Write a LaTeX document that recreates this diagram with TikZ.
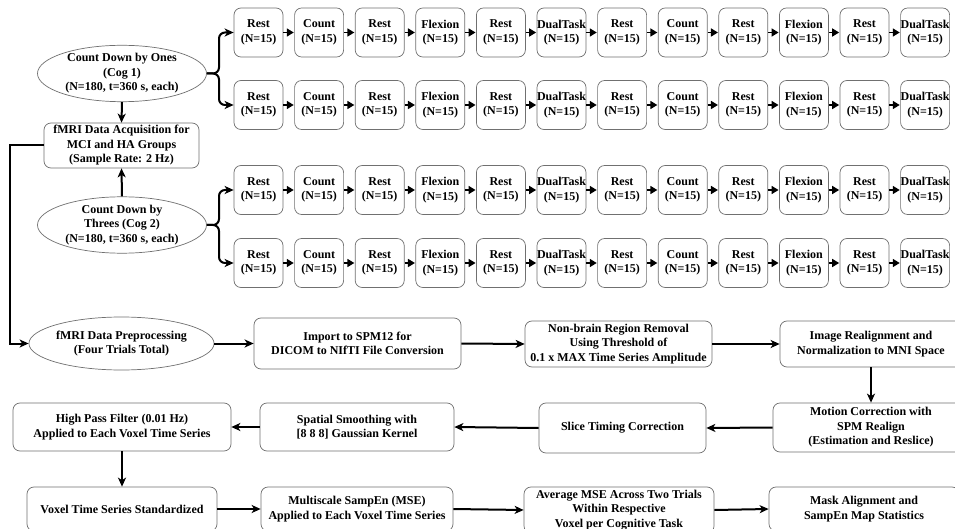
\documentclass[tikz,border=0pt]{standalone}
\usepackage{fontspec}
\setmainfont{Liberation Serif}
\usetikzlibrary{shapes.geometric,arrows.meta}
\definecolor{edgegray}{HTML}{707070}
\begin{document}
\begin{tikzpicture}[x=1pt,y=-1pt,
  txt/.style={font=\bfseries\fontsize{12}{14.5}\selectfont, align=center, inner sep=0pt},
  box/.style={txt, draw=edgegray, line width=0.7pt, rounded corners=7pt},
  sbox/.style={box, minimum width=49pt, minimum height=49pt},
  oval/.style={txt, ellipse, draw=edgegray, line width=0.7pt},
  conn/.style={line width=2pt, -{Stealth[length=9pt,width=8pt,inset=2.5pt]}},
  sconn/.style={line width=1.6pt, -{Triangle[length=7pt,width=8pt]}, shorten >=0.5pt}
]
\useasboundingbox (0,0) rectangle (955,529);
\clip (0,0) rectangle (955,529);
\fill[white] (0,0) rectangle (955,529);

% left column
\node[oval, minimum width=169pt, minimum height=47pt] (ellA) at (122,73.5) {Count Down by Ones\\(Cog 1)\\(N=180, t=360 s, each)};
\node[oval, minimum width=169pt, minimum height=47pt] (ellB) at (122,225) {Count Down by\\Threes (Cog 2)\\(N=180, t=360 s, each)};
\node[box, minimum width=155pt, minimum height=45pt] (acq) at (121.5,145.5) {fMRI Data Acquisition for\\MCI and HA Groups\\(Sample Rate: 2 Hz)};
\draw[conn] (ellA.south) -- (acq.north);
\draw[conn] (ellB.north) -- (acq.south);

% task rows
\foreach \r/\yy in {1/32.5,2/105,3/190,4/263}{
  \foreach \lab [count=\i] in {Rest,Count,Rest,Flexion,Rest,DualTask,Rest,Count,Rest,Flexion,Rest,DualTask}{
    \node[sbox] (r\r b\i) at ({258.5+60.6*(\i-1)},\yy) {\lab\\(N=15)};
  }
  \foreach \i [evaluate=\i as \j using int(\i+1)] in {1,...,11}{
    \draw[sconn] (r\r b\i.east) -- (r\r b\j.west);
  }
}

% branches
\draw[conn, rounded corners=6pt] (ellA.east) -- (219,73.5) |- (r1b1.west);
\draw[conn, rounded corners=6pt] (ellA.east) -- (219,73.5) |- (r2b1.west);
\draw[conn, rounded corners=6pt] (ellB.east) -- (219,225) |- (r3b1.west);
\draw[conn, rounded corners=6pt] (ellB.east) -- (219,225) |- (r4b1.west);

% processing pipeline
\node[oval, minimum width=157pt, minimum height=53pt] (pre) at (121.5,343.5) {fMRI Data Preprocessing\\(Four Trials Total)};
\node[box, minimum width=207pt, minimum height=51pt] (imp) at (357.5,343.5) {Import to SPM12 for\\DICOM to NIfTI File Conversion};
\node[box, minimum width=187pt, minimum height=46pt] (nb) at (618.5,344) {Non-brain Region Removal\\Using Threshold of\\0.1 x MAX Time Series Amplitude};
\node[box, minimum width=182pt, minimum height=46pt] (img) at (871,344) {Image Realignment and\\Normalization to MNI Space};
\node[box, minimum width=196pt, minimum height=49pt] (mot) at (871,427.5) {Motion Correction with\\SPM Realign\\(Estimation and Reslice)};
\node[box, minimum width=167pt, minimum height=50pt] (slice) at (622.5,428) {Slice Timing Correction};
\node[box, minimum width=194pt, minimum height=48pt] (spat) at (357,427) {Spatial Smoothing with\\{[8 8 8]} Gaussian Kernel};
\node[box, minimum width=218pt, minimum height=48pt] (hp) at (122,427) {High Pass Filter (0.01 Hz)\\Applied to Each Voxel Time Series};
\node[box, minimum width=190pt, minimum height=44pt] (vox) at (122,509) {Voxel Time Series Standardized};
\node[box, minimum width=192pt, minimum height=44pt] (mse) at (357,509) {Multiscale SampEn (MSE)\\Applied to Each Voxel Time Series};
\node[box, minimum width=190pt, minimum height=46pt] (avg) at (619,510) {Average MSE Across Two Trials\\Within Respective\\Voxel per Cognitive Task};
\node[box, minimum width=190pt, minimum height=44pt] (mask) at (864,509) {Mask Alignment and\\SampEn Map Statistics};

\draw[conn] (acq.west) -- (10,145.5) |- (pre.west);
\draw[conn] (pre.east) -- (imp.west);
\draw[conn] (imp.east) -- (nb.west);
\draw[conn] (nb.east) -- (img.west);
\draw[conn] (img.south) -- (mot.north);
\draw[conn] (mot.west) -- (slice.east);
\draw[conn] (slice.west) -- (spat.east);
\draw[conn] (spat.west) -- (hp.east);
\draw[conn] (hp.south) -- (vox.north);
\draw[conn] (vox.east) -- (mse.west);
\draw[conn] (mse.east) -- (avg.west);
\draw[conn] (avg.east) -- (mask.west);
\end{tikzpicture}
\end{document}
